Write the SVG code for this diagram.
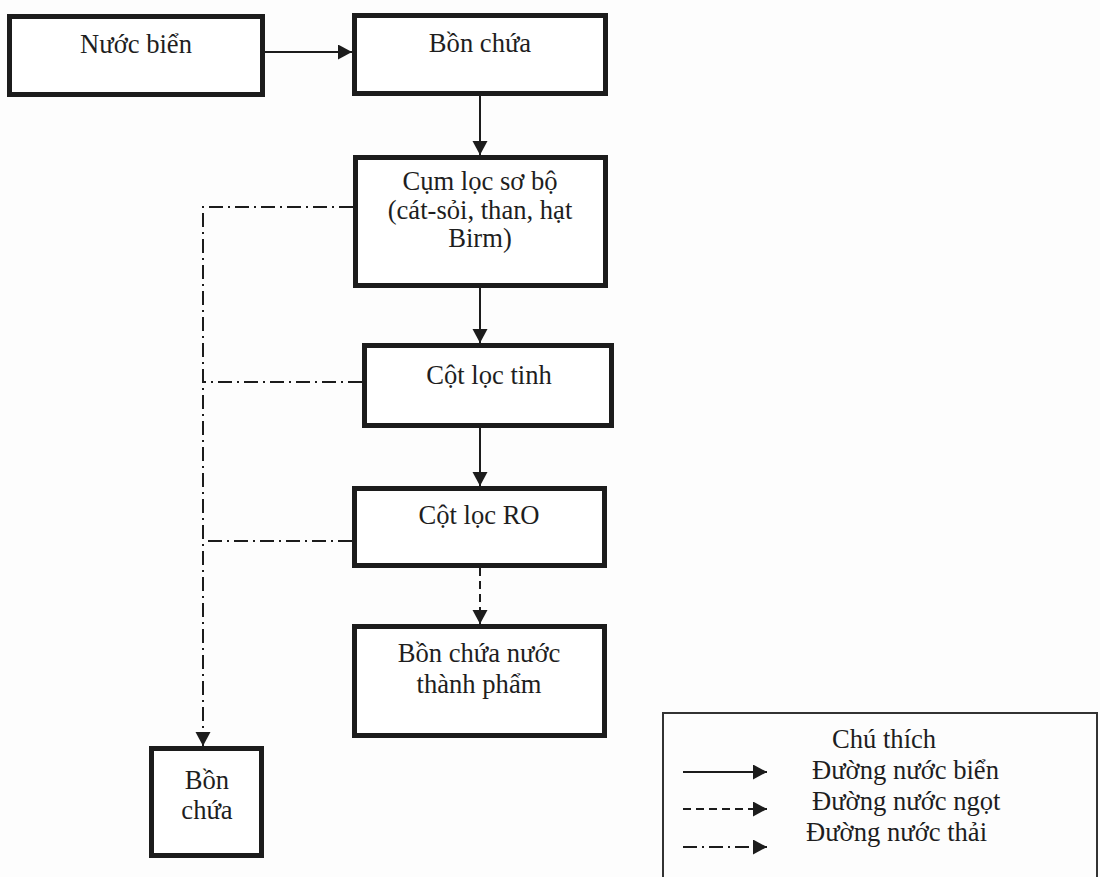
<svg xmlns="http://www.w3.org/2000/svg" width="1100" height="877" viewBox="0 0 1100 877">
<style>
.box{fill:#fff;stroke:#1c1c1c;stroke-width:5}
.t{font-family:"Liberation Serif","Times New Roman",serif;font-size:26.6px;fill:#1e1e1e;text-anchor:middle}
.ts{font-family:"Liberation Serif","Times New Roman",serif;font-size:26.6px;fill:#1e1e1e}
.c{fill:none;stroke:#1c1c1c;stroke-width:2}
.dash{stroke-dasharray:8 5}
.dd{stroke-dasharray:14 5 2 5}
</style>
<defs>
<marker id="ah" markerUnits="userSpaceOnUse" markerWidth="15" markerHeight="16" refX="14" refY="7.5" orient="auto">
<path d="M0,0 L14,7.5 L0,15 Z" fill="#1c1c1c"/>
</marker>
</defs>
<rect width="1100" height="877" fill="#fdfdfd"/>
<g id="nuoc-bien"><rect class="box" x="9.5" y="16.5" width="253" height="78"/><text class="t" x="136" y="53">Nước biển</text></g>
<g id="bon-chua"><rect class="box" x="354.5" y="15.5" width="251" height="78"/><text class="t" x="480" y="52">Bồn chứa</text></g>
<g id="cum-loc"><rect class="box" x="355.5" y="157.5" width="250" height="128"/><text class="t" x="480" y="190">Cụm lọc sơ bộ</text><text class="t" x="480" y="219">(cát-sỏi, than, hạt</text><text class="t" x="480" y="247">Birm)</text></g>
<g id="cot-loc-tinh"><rect class="box" x="364.5" y="345.5" width="247" height="80"/><text class="t" x="489" y="384">Cột lọc tinh</text></g>
<g id="cot-loc-ro"><rect class="box" x="354.5" y="488.5" width="250" height="77"/><text class="t" x="479" y="524">Cột lọc RO</text></g>
<g id="bon-chua-thanh-pham"><rect class="box" x="354.5" y="626.5" width="250" height="109"/><text class="t" x="479" y="662">Bồn chứa nước</text><text class="t" x="479" y="693">thành phẩm</text></g>
<g id="bon-chua-thai"><rect class="box" x="151.5" y="748.5" width="110" height="107"/><text class="t" x="207" y="789">Bồn</text><text class="t" x="207" y="819">chứa</text></g>
<g id="connectors">
<line class="c" x1="265" y1="52" x2="352" y2="52" marker-end="url(#ah)"/>
<line class="c" x1="480" y1="96" x2="480" y2="155" marker-end="url(#ah)"/>
<line class="c" x1="480" y1="288" x2="480" y2="343" marker-end="url(#ah)"/>
<line class="c" x1="480" y1="428" x2="480" y2="486" marker-end="url(#ah)"/>
<line class="c dash" x1="480" y1="568" x2="480" y2="624" marker-end="url(#ah)"/>
<path class="c dd" d="M353,207 H203 V746" marker-end="url(#ah)"/>
<line class="c dd" x1="362" y1="382" x2="203" y2="382"/>
<line class="c dd" x1="352" y1="541" x2="203" y2="541"/>
</g>
<g id="legend">
<rect x="663" y="713" width="434" height="200" fill="none" stroke="#333" stroke-width="2"/>
<text class="ts" x="832" y="748">Chú thích</text>
<line class="c" x1="683" y1="772" x2="767" y2="772" stroke-width="2.5" marker-end="url(#ah)"/>
<text class="ts" x="812" y="779">Đường nước biển</text>
<line class="c dash" x1="683" y1="809" x2="767" y2="809" stroke-width="2.5" marker-end="url(#ah)"/>
<text class="ts" x="812" y="810">Đường nước ngọt</text>
<line class="c dd" x1="683" y1="847" x2="767" y2="847" stroke-width="2.5" marker-end="url(#ah)"/>
<text class="ts" x="806" y="841">Đường nước thải</text>
</g>
</svg>
